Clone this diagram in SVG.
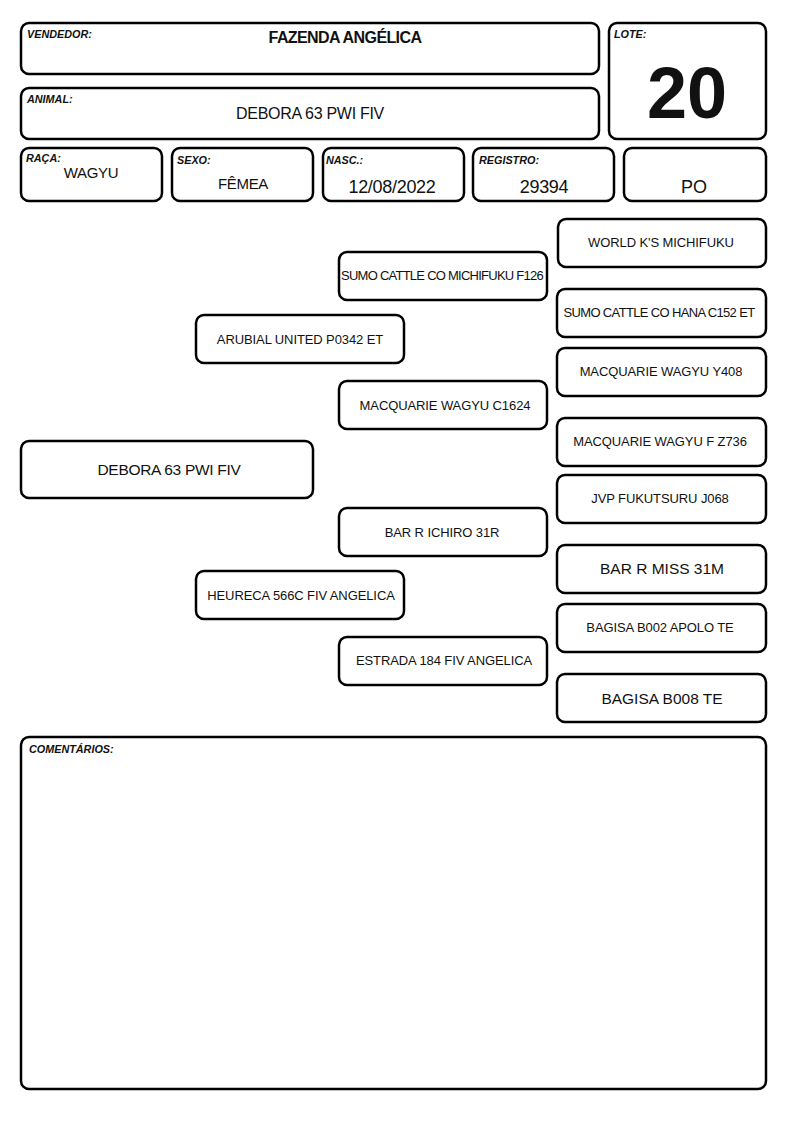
<svg xmlns="http://www.w3.org/2000/svg" width="794" height="1123" viewBox="0 0 794 1123">
<style>
.b{fill:#fff;stroke:#000;stroke-width:2.5}
.l{font-family:"Liberation Sans",Arial,sans-serif;font-size:10.8px;font-weight:bold;font-style:italic;fill:#111}
.t{font-family:"Liberation Sans",Arial,sans-serif;fill:#111;text-anchor:middle}
.p{font-size:13px;letter-spacing:-0.1px}
.q{font-size:15.5px}
</style>
<rect width="794" height="1123" fill="#fff"/>
<g id="vendedor"><rect class="b" x="21" y="23" width="578" height="51" rx="8"/><text class="l" x="27" y="38">VENDEDOR:</text><text class="t" x="345" y="43" font-size="16" font-weight="bold" letter-spacing="-0.6">FAZENDA ANGÉLICA</text></g>
<g id="animal"><rect class="b" x="21" y="88" width="578" height="51" rx="8"/><text class="l" x="27" y="103">ANIMAL:</text><text class="t" x="310" y="119" font-size="16" letter-spacing="-0.3">DEBORA 63 PWI FIV</text></g>
<g id="lote"><rect class="b" x="609" y="23" width="157" height="116" rx="8"/><text class="l" x="614" y="38">LOTE:</text><text class="t" x="687" y="118" font-size="72" font-weight="bold">20</text></g>
<g id="raca"><rect class="b" x="21" y="148" width="141" height="53" rx="8"/><text class="l" x="26" y="162">RAÇA:</text><text class="t" x="91" y="178" font-size="15" letter-spacing="-0.3">WAGYU</text></g>
<g id="sexo"><rect class="b" x="172" y="148" width="141" height="53" rx="8"/><text class="l" x="177" y="164">SEXO:</text><text class="t" x="243" y="189" font-size="15" letter-spacing="-0.3">FÊMEA</text></g>
<g id="nasc"><rect class="b" x="323" y="148" width="141" height="53" rx="8"/><text class="l" x="326" y="164">NASC.:</text><text class="t" x="392" y="193" font-size="18" letter-spacing="-0.3">12/08/2022</text></g>
<g id="registro"><rect class="b" x="473" y="148" width="141" height="53" rx="8"/><text class="l" x="479" y="164">REGISTRO:</text><text class="t" x="544" y="193" font-size="18" letter-spacing="-0.3">29394</text></g>
<g id="po"><rect class="b" x="624" y="148" width="142" height="53" rx="8"/><text class="t" x="694" y="193" font-size="18">PO</text></g>
<g id="connectors"></g>
<g id="n-world"><rect class="b" x="558" y="219" width="208" height="48" rx="8"/><text class="t p" x="661" y="247">WORLD K'S MICHIFUKU</text></g>
<g id="n-sumo-f126"><rect class="b" x="339" y="252" width="208" height="48" rx="8"/><text class="t p" x="442" y="280" style="letter-spacing:-0.75px">SUMO CATTLE CO MICHIFUKU F126</text></g>
<g id="n-sumo-hana"><rect class="b" x="557" y="289" width="209" height="48" rx="8"/><text class="t p" x="659" y="317" style="letter-spacing:-0.65px">SUMO CATTLE CO HANA C152 ET</text></g>
<g id="n-arubial"><rect class="b" x="196" y="315" width="208" height="48" rx="8"/><text class="t p" x="300" y="344">ARUBIAL UNITED P0342 ET</text></g>
<g id="n-macq-y408"><rect class="b" x="557" y="348" width="209" height="48" rx="8"/><text class="t p" x="661" y="376">MACQUARIE WAGYU Y408</text></g>
<g id="n-macq-c1624"><rect class="b" x="339" y="381" width="208" height="48" rx="8"/><text class="t p" x="445" y="410">MACQUARIE WAGYU C1624</text></g>
<g id="n-macq-z736"><rect class="b" x="557" y="418" width="209" height="48" rx="8"/><text class="t p" x="660" y="446">MACQUARIE WAGYU F Z736</text></g>
<g id="n-debora"><rect class="b" x="21" y="441" width="292" height="57" rx="8"/><text class="t q" x="169" y="475" letter-spacing="-0.3">DEBORA 63 PWI FIV</text></g>
<g id="n-jvp"><rect class="b" x="557" y="475" width="209" height="48" rx="8"/><text class="t p" x="660" y="503">JVP FUKUTSURU J068</text></g>
<g id="n-ichiro"><rect class="b" x="339" y="508" width="208" height="48" rx="8"/><text class="t p" x="442" y="537">BAR R ICHIRO 31R</text></g>
<g id="n-miss"><rect class="b" x="557" y="545" width="209" height="48" rx="8"/><text class="t q" x="662" y="574">BAR R MISS 31M</text></g>
<g id="n-heureca"><rect class="b" x="196" y="571" width="208" height="48" rx="8"/><text class="t p" x="301" y="600">HEURECA 566C FIV ANGELICA</text></g>
<g id="n-bagisa-b002"><rect class="b" x="557" y="604" width="209" height="48" rx="8"/><text class="t p" x="660" y="632">BAGISA B002 APOLO TE</text></g>
<g id="n-estrada"><rect class="b" x="339" y="637" width="208" height="48" rx="8"/><text class="t p" x="444" y="665">ESTRADA 184 FIV ANGELICA</text></g>
<g id="n-bagisa-b008"><rect class="b" x="557" y="674" width="209" height="48" rx="8"/><text class="t q" x="662" y="704">BAGISA B008 TE</text></g>
<g id="comentarios"><rect class="b" x="21" y="737" width="745" height="352" rx="8"/><text class="l" x="29" y="753">COMENTÁRIOS:</text></g>
</svg>
